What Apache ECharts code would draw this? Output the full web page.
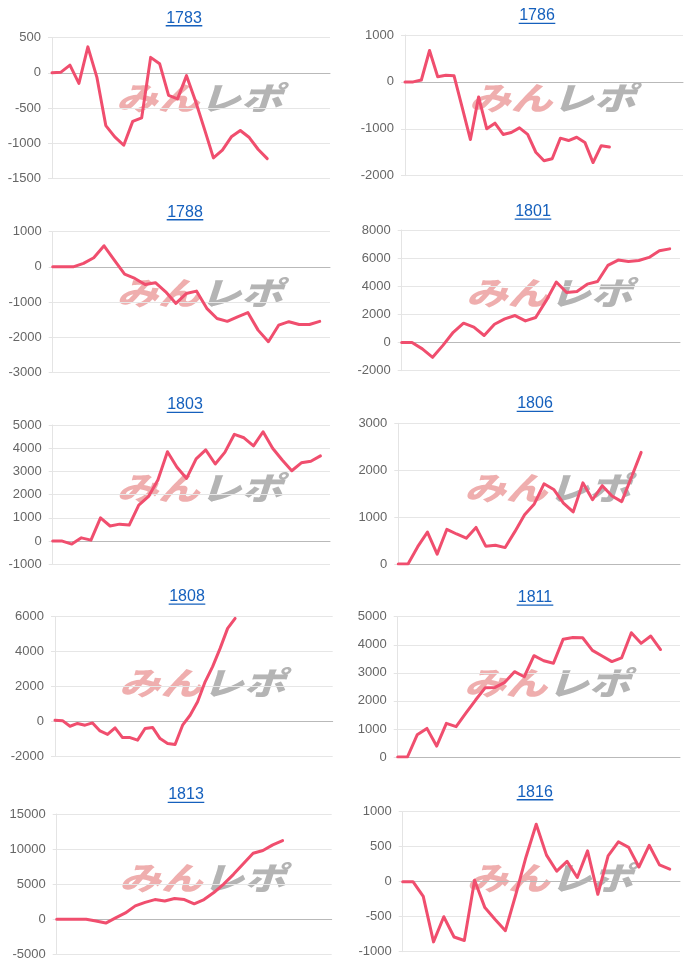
<!DOCTYPE html>
<html>
<head>
<meta charset="utf-8">
<script src="https://cdn.jsdelivr.net/npm/echarts@6/dist/echarts.min.js"></script>
<style>
  html, body { margin: 0; padding: 0; background: #ffffff; }
  #chart { width: 700px; height: 971px; }
</style>
</head>
<body>
<div id="chart"></div>
<script>
// ---- titles (years) ----
const titles = ['1783', '1786', '1788', '1801', '1803', '1806', '1808', '1811', '1813', '1816'];

// ---- number of x categories per panel ----
const categoryCounts = [32, 35, 28, 28, 30, 30, 38, 30, 29, 28];

// ---- series values ----
const s1783 = [0, 10, 110, -150, 370, -60, -750, -910, -1030, -690, -640, 220, 130, -320, -370, -40, -400, -800, -1210, -1100, -910, -820, -920, -1090, -1220];
const s1786 = [0, 0, 40, 670, 110, 140, 130, -550, -1230, -320, -1000, -880, -1120, -1080, -980, -1120, -1500, -1680, -1640, -1200, -1250, -1180, -1290, -1720, -1360, -1390];
const s1788 = [0, 0, 0, 100, 260, 600, 190, -210, -330, -500, -450, -710, -1040, -760, -690, -1180, -1470, -1550, -1420, -1300, -1800, -2130, -1660, -1560, -1640, -1640, -1550];
const s1801 = [0, 0, -450, -1050, -200, 730, 1380, 1100, 500, 1300, 1680, 1920, 1540, 1780, 2960, 4300, 3560, 3630, 4150, 4340, 5480, 5860, 5760, 5830, 6050, 6520, 6660];
const s1803 = [0, 0, -130, 140, 40, 1000, 650, 730, 690, 1550, 1910, 2630, 3850, 3180, 2700, 3540, 3930, 3320, 3820, 4600, 4450, 4100, 4710, 4000, 3490, 3030, 3370, 3440, 3670];
const s1806 = [0, 0, 370, 680, 210, 740, 640, 550, 780, 380, 400, 350, 690, 1050, 1280, 1710, 1590, 1300, 1110, 1730, 1370, 1670, 1450, 1330, 1850, 2380];
const s1808 = [50, 30, -290, -130, -230, -100, -560, -760, -380, -940, -940, -1090, -420, -360, -1000, -1280, -1340, -230, 340, 1110, 2260, 3130, 4180, 5330, 5900];
const s1811 = [0, 0, 790, 1020, 390, 1200, 1080, 1560, 2030, 2470, 2480, 2660, 3040, 2860, 3610, 3430, 3340, 4200, 4260, 4250, 3800, 3600, 3400, 3530, 4430, 4050, 4310, 3830];
const s1813 = [0, 0, 0, 0, -250, -550, 200, 900, 1900, 2400, 2800, 2600, 2950, 2800, 2200, 2800, 3800, 5000, 6400, 7900, 9400, 9800, 10600, 11200];
const s1816 = [0, 0, -210, -860, -500, -790, -840, 20, -370, -540, -700, -190, 350, 820, 380, 150, 290, 60, 440, -180, 370, 570, 490, 210, 520, 240, 180];

// ---- y-axis scales (tick values) ----
const yMins      = [-1500, -2000, -3000, -2000, -1000, 0, -2000, 0, -5000, -1000];
const yMaxs      = [500, 1000, 1000, 8000, 5000, 3000, 6000, 5000, 15000, 1000];
const yIntervals = [500, 1000, 1000, 2000, 1000, 1000, 2000, 1000, 5000, 500];

const seriesList = [s1783, s1786, s1788, s1801, s1803, s1806, s1808, s1811, s1813, s1816];

// ---- layout (px) ----
const gridLeft   = [52, 405, 52.7, 401.7, 52.7, 398.3, 55, 397.7, 56.7, 402.7];
const gridTop    = [37.7, 35, 231.7, 230, 425, 423.3, 616.7, 616.7, 814, 811.7];
const gridWidth  = [278, 278, 277.3, 278.3, 277.3, 281.7, 277.7, 282.3, 275, 277.3];
const gridHeight = [140.6, 140.7, 140.6, 140.7, 139.3, 140.7, 139.3, 140.3, 140.3, 140];
const titleX     = [184, 537, 185, 533, 185, 535, 187, 535, 186, 535];
const titleY     = [18.3, 16, 212.3, 211.7, 405, 404, 596.7, 597.7, 795, 792.3];
const rowTops    = [0, 0, 195, 195, 390, 390, 585, 585, 780, 780];

const FONT = "'Liberation Sans', Arial, Helvetica, sans-serif";
const LINE_COLOR = '#f04e6e';
const TITLE_COLOR = '#1560bd';
const LOGO_FONT = "italic 900 32px 'Noto Sans CJK JP'";

const chart = echarts.init(document.getElementById('chart'), null, { renderer: 'canvas' });

const grids = [], xAxes = [], yAxes = [], series = [], graphics = [];

titles.forEach((t, i) => {
  const cats = [];
  for (let k = 1; k <= categoryCounts[i]; k++) cats.push(String(k));

  grids.push({ left: gridLeft[i], top: gridTop[i], width: gridWidth[i], height: gridHeight[i], containLabel: false });

  xAxes.push({
    type: 'category', gridIndex: i, data: cats, boundaryGap: false,
    axisLabel: { show: false }, axisTick: { show: false },
    axisLine: { show: true, onZero: true, lineStyle: { color: '#b9b9b9', width: 1 } },
    splitLine: { show: false }
  });

  yAxes.push({
    type: 'value', gridIndex: i, min: yMins[i], max: yMaxs[i], interval: yIntervals[i],
    axisLine: { show: true, lineStyle: { color: '#e4e4e4', width: 1 } },
    axisTick: { show: true, length: 4, lineStyle: { color: '#e4e4e4' } },
    splitLine: { show: true, lineStyle: { color: '#e6e6e6', width: 1 } },
    axisLabel: { color: '#666666', fontSize: 13, fontFamily: FONT, margin: 11,
                 formatter: v => String(v) }
  });

  series.push({
    type: 'line', xAxisIndex: i, yAxisIndex: i, data: seriesList[i],
    symbol: 'none', showSymbol: false, smooth: false, z: 5,
    lineStyle: { color: LINE_COLOR, width: 3, join: 'round', cap: 'round' },
    itemStyle: { color: LINE_COLOR }
  });

  // title text
  graphics.push({
    type: 'text', x: titleX[i], y: titleY[i], z: 10,
    style: { text: t, fill: TITLE_COLOR, fontSize: 16, fontFamily: FONT,
             align: 'center', verticalAlign: 'middle', textAlign: 'center', textVerticalAlign: 'middle' }
  });
  // underline
  const w = t.length * 8.9 + 1;
  graphics.push({
    type: 'rect', z: 10,
    shape: { x: titleX[i] - w / 2, y: titleY[i] + 6.8, width: w, height: 1.3 },
    style: { fill: TITLE_COLOR }
  });

  // watermark logo
  const cx = gridLeft[i] + gridWidth[i] / 2 + 7;
  const cy = rowTops[i] + 98;
  graphics.push({
    type: 'group', x: cx, y: cy, scaleX: 1.3, z: 0,
    children: [
      { type: 'text', x: 1, y: 0, z: 0,
        style: { text: 'みん', fill: 'rgba(228,120,120,0.6)', font: LOGO_FONT,
                 align: 'right', verticalAlign: 'middle', textAlign: 'right', textVerticalAlign: 'middle' } },
      { type: 'text', x: 1, y: 0, z: 0,
        style: { text: 'レポ', fill: 'rgba(140,140,140,0.65)', font: LOGO_FONT,
                 align: 'left', verticalAlign: 'middle', textAlign: 'left', textVerticalAlign: 'middle' } }
    ]
  });
});

chart.setOption({
  animation: false,
  backgroundColor: '#ffffff',
  textStyle: { fontFamily: FONT },
  grid: grids,
  xAxis: xAxes,
  yAxis: yAxes,
  series: series,
  graphic: graphics
});
</script>
</body>
</html>
